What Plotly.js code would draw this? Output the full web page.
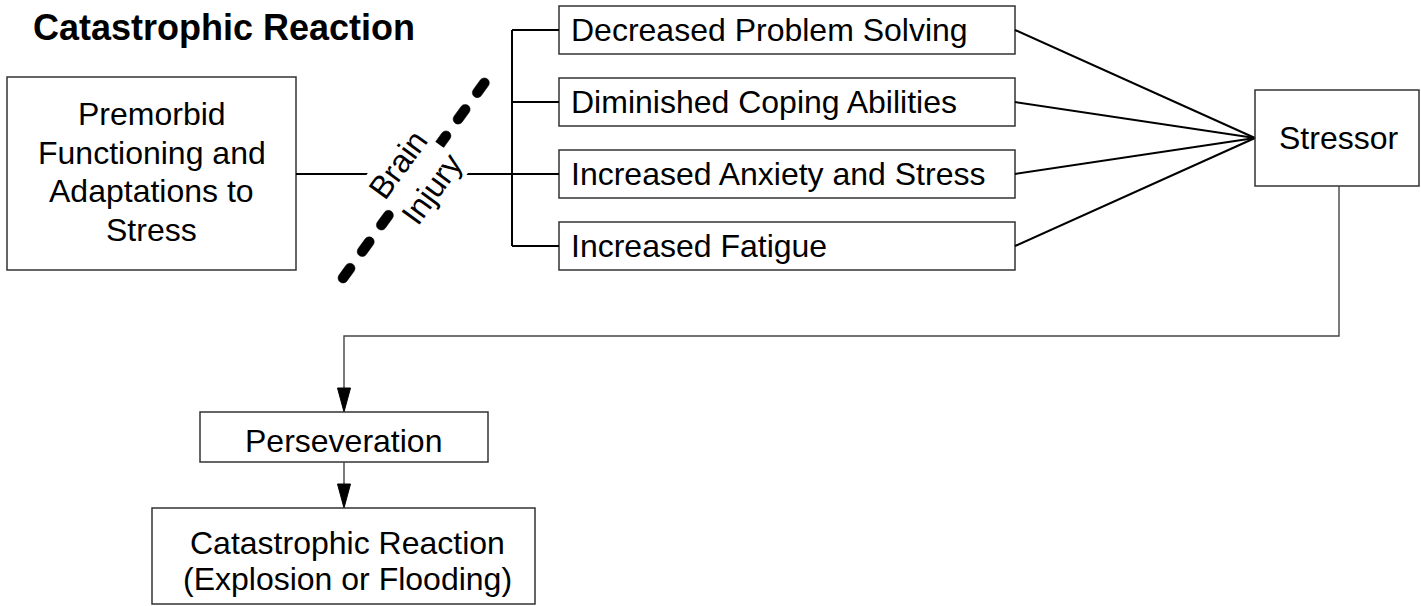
<!DOCTYPE html>
<html>
<head>
<meta charset="utf-8">
<script src="https://cdn.plot.ly/plotly-3.0.1.min.js"></script>
<style>
  html, body { margin: 0; padding: 0; background: #ffffff; }
  #chart { width: 1421px; height: 606px; }
</style>
</head>
<body>
<div id="chart"></div>
<script>
// ---------- content (text) ----------
const titleText = "Catastrophic Reaction";
const sourceLabel = ["Premorbid", "Functioning and", "Adaptations to", "Stress"];
const injuryLabel = ["Brain", "Injury"];
const effectLabels = [
  "Decreased Problem Solving",
  "Diminished Coping Abilities",
  "Increased Anxiety and Stress",
  "Increased Fatigue"
];
const stressorLabel = ["Stressor"];
const perseverationLabel = ["Perseveration"];
const outcomeLabel = ["Catastrophic Reaction", "(Explosion or Flooding)"];

// ---------- layout geometry (pixel-like data coordinates) ----------
const W = 1421, H = 606;
const FONT = "'Liberation Sans', Arial, Helvetica, sans-serif";
const BOX_LINE = { color: "#333333", width: 1.5 };
const CONN_LINE = { color: "#000000", width: 2 };
const FLOW_LINE = { color: "#444444", width: 1.4 };

const sourceBox = { x0: 7, x1: 296, y0: 77, y1: 270, lineGap: 38.8, textX: 151.5 };
const effectGeom = { x0: 559, x1: 1015, top: 6, h: 48, step: 72, textX: 569 };
const stressorBox = { x0: 1255, x1: 1419, y0: 90, y1: 186, textX: 1338 };
const persevBox = { x0: 200, x1: 488, y0: 412, y1: 462, textX: 343, textY: 441 };
const outcomeBox = { x0: 152, x1: 535, y0: 508, y1: 604, lineGap: 36.5, textX: 347, textY: 561 };
const busX = 512;
const joinY = 174;
const fanPoint = { x: 1255, y: 138 };
const loop = { x: 1339, y: 336, downX: 344 };
const arrow = { halfW: 6.5, len: 24 };
const injuryLine = { x0: 343, y0: 278, x1: 485, y1: 82, radius: 5, dashLen: 12, period: 32.7 };
const injuryText = { x: 415, y: 177, angle: -54 };

const shapes = [];
const annotations = [];

function rect(b) {
  shapes.push({ type: "rect", xref: "x", yref: "y", x0: b.x0, x1: b.x1, y0: b.y0, y1: b.y1,
    line: BOX_LINE, fillcolor: "rgba(0,0,0,0)", layer: "above" });
}
function seg(x0, y0, x1, y1, line) {
  shapes.push({ type: "line", xref: "x", yref: "y", x0, y0, x1, y1, line, layer: "above" });
}
function tri(x, yTip) {
  shapes.push({ type: "path", xref: "x", yref: "y",
    path: `M ${x - arrow.halfW} ${yTip - arrow.len} L ${x + arrow.halfW} ${yTip - arrow.len} L ${x} ${yTip} Z`,
    fillcolor: "#000000", line: { color: "#000000", width: 1 }, layer: "above" });
}
function label(text, x, y, opts = {}) {
  annotations.push(Object.assign({
    text, x, y, xref: "x", yref: "y", showarrow: false,
    xanchor: "center", yanchor: "middle",
    font: { family: FONT, size: 32, color: "#000000" }
  }, opts));
}
function multiLabel(lines, x, cy, gap) {
  const n = lines.length;
  lines.forEach((t, i) => label(t, x, cy + (i - (n - 1) / 2) * gap));
}
// rounded-cap dash (stadium) as a filled path
function stadium(ax, ay, bx, by, r) {
  const dx = bx - ax, dy = by - ay, L = Math.hypot(dx, dy) || 1;
  const ux = dx / L, uy = dy / L, nx = -uy, ny = ux, k = 0.5523 * r;
  const f = v => v.toFixed(2);
  const P = (x, y) => `${f(x)} ${f(y)}`;
  const path =
    `M ${P(ax + r * nx, ay + r * ny)} L ${P(bx + r * nx, by + r * ny)} ` +
    `C ${P(bx + r * nx + k * ux, by + r * ny + k * uy)} ${P(bx + r * ux + k * nx, by + r * uy + k * ny)} ${P(bx + r * ux, by + r * uy)} ` +
    `C ${P(bx + r * ux - k * nx, by + r * uy - k * ny)} ${P(bx - r * nx + k * ux, by - r * ny + k * uy)} ${P(bx - r * nx, by - r * ny)} ` +
    `L ${P(ax - r * nx, ay - r * ny)} ` +
    `C ${P(ax - r * nx - k * ux, ay - r * ny - k * uy)} ${P(ax - r * ux - k * nx, ay - r * uy - k * ny)} ${P(ax - r * ux, ay - r * uy)} ` +
    `C ${P(ax - r * ux + k * nx, ay - r * uy + k * ny)} ${P(ax + r * nx - k * ux, ay + r * ny - k * uy)} ${P(ax + r * nx, ay + r * ny)} Z`;
  shapes.push({ type: "path", xref: "x", yref: "y", path,
    fillcolor: "#000000", line: { color: "#000000", width: 0.5 }, layer: "above" });
}

// Title
label(titleText, 31, 27.5, { xanchor: "left", font: { family: FONT, size: 36, color: "#000000", weight: "bold" } });

// Source box
rect(sourceBox);
multiLabel(sourceLabel, sourceBox.textX, (sourceBox.y0 + sourceBox.y1) / 2 - 1.5, sourceBox.lineGap);
seg(sourceBox.x1, joinY, busX, joinY, CONN_LINE);

// Effect boxes + bus + fan-in to stressor
const centers = effectLabels.map((_, i) => effectGeom.top + i * effectGeom.step + effectGeom.h / 2);
seg(busX, centers[0], busX, centers[centers.length - 1], CONN_LINE);
effectLabels.forEach((t, i) => {
  const y0 = effectGeom.top + i * effectGeom.step;
  rect({ x0: effectGeom.x0, x1: effectGeom.x1, y0, y1: y0 + effectGeom.h });
  seg(busX, centers[i], effectGeom.x0, centers[i], CONN_LINE);
  seg(effectGeom.x1, centers[i], fanPoint.x, fanPoint.y, CONN_LINE);
  label(t, effectGeom.textX, centers[i], { xanchor: "left" });
});

// Stressor
rect(stressorBox);
multiLabel(stressorLabel, stressorBox.textX, (stressorBox.y0 + stressorBox.y1) / 2, 0);

// Loop back to perseveration
shapes.push({ type: "path", xref: "x", yref: "y",
  path: `M ${loop.x} ${stressorBox.y1} L ${loop.x} ${loop.y} L ${loop.downX} ${loop.y} L ${loop.downX} ${persevBox.y0 - arrow.len + 1}`,
  line: FLOW_LINE, layer: "above" });
tri(loop.downX, persevBox.y0);

rect(persevBox);
multiLabel(perseverationLabel, persevBox.textX, persevBox.textY, 0);

seg(loop.downX, persevBox.y1, loop.downX, outcomeBox.y0 - arrow.len + 1, FLOW_LINE);
tri(loop.downX, outcomeBox.y0);

rect(outcomeBox);
multiLabel(outcomeLabel, outcomeBox.textX, outcomeBox.textY, outcomeBox.lineGap);

// Brain injury dashed line (rounded dashes)
(function () {
  const { x0, y0, x1, y1, radius, dashLen, period } = injuryLine;
  const L = Math.hypot(x1 - x0, y1 - y0);
  const ux = (x1 - x0) / L, uy = (y1 - y0) / L;
  for (let s = 0; s < L; s += period) {
    const e = Math.min(s + dashLen, L);
    stadium(x0 + ux * s, y0 + uy * s, x0 + ux * e, y0 + uy * e, radius);
  }
})();

label(injuryLabel.join("<br>"), injuryText.x, injuryText.y, {
  textangle: injuryText.angle, bgcolor: "#ffffff", borderpad: 1
});

const layout = {
  width: W, height: H,
  margin: { l: 0, r: 0, t: 0, b: 0, pad: 0 },
  paper_bgcolor: "#ffffff", plot_bgcolor: "#ffffff",
  showlegend: false,
  xaxis: { range: [0, W], visible: false, fixedrange: true },
  yaxis: { range: [H, 0], visible: false, fixedrange: true },
  shapes, annotations
};

Plotly.newPlot("chart", [], layout, { staticPlot: true, displayModeBar: false });
</script>
</body>
</html>
